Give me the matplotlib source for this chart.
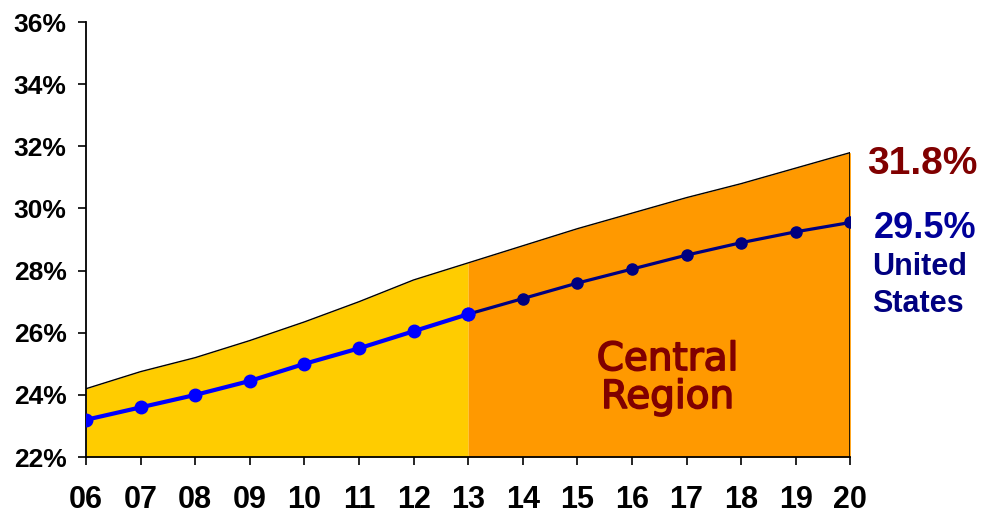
import matplotlib.pyplot as plt
import matplotlib.patheffects as pe
from matplotlib.ticker import FuncFormatter

# Data
years = [6, 7, 8, 9, 10, 11, 12, 13, 14, 15, 16, 17, 18, 19, 20]
year_labels = ['06', '07', '08', '09', '10', '11', '12', '13', '14', '15', '16', '17', '18', '19', '20']
central = [24.2, 24.75, 25.2, 25.75, 26.35, 27.0, 27.7, 28.25, 28.8, 29.35, 29.85, 30.35, 30.8, 31.3, 31.8]
us = [23.2, 23.6, 24.0, 24.45, 25.0, 25.5, 26.05, 26.6, 27.1, 27.6, 28.05, 28.5, 28.9, 29.25, 29.55]
split = 7  # index of year 13, where actual turns into projection

fig = plt.figure(figsize=(9.85, 5.13), dpi=100)
ax = fig.add_axes([0.0873, 0.109, 0.776, 0.848])

# Shaded area, yellow for past and orange for projection
ax.fill_between(years[:split + 1], 22, central[:split + 1], color='#FFCC00', lw=0)
ax.fill_between(years[split:], 22, central[split:], color='#FF9900', lw=0)
ax.plot(years, central, color='black', lw=1)
ax.plot([years[-1], years[-1]], [22, central[-1]], color='black', lw=1.2)

# United States line
ax.plot(years[:split + 1], us[:split + 1], color='#0000FF', lw=3, marker='o', ms=9, zorder=3)
ax.plot(years[split:], us[split:], color='#000080', lw=2.3, marker='o', ms=8, zorder=3)
ax.plot(years[split], us[split], color='#0000FF', marker='o', ms=9, zorder=4)

ax.set_xlim(6, 20)
ax.set_ylim(22, 36)
ax.set_yticks(range(22, 37, 2))
ax.yaxis.set_major_formatter(FuncFormatter(lambda v, p: f'{v:.0f}%'))
ax.set_xticks(years)
ax.set_xticklabels(year_labels)

for s in ['top', 'right']:
    ax.spines[s].set_visible(False)
for s in ['left', 'bottom']:
    ax.spines[s].set_linewidth(1.3)
ax.tick_params(axis='y', direction='out', length=6, width=1.2, pad=8, labelsize=19)
ax.tick_params(axis='x', direction='out', length=6, width=1.2, pad=14, labelsize=22)
for lab in ax.get_xticklabels() + ax.get_yticklabels():
    lab.set_fontweight('bold')
    lab.set_fontfamily('Liberation Sans')

# Labels on the right
ax.annotate('31.8%', (years[-1], central[-1]), xytext=(12, -8), textcoords='offset points',
            ha='left', va='center', fontsize=28, fontweight='bold', color='#800000',
            family='Liberation Sans', annotation_clip=False)
ax.annotate('29.5%', (years[-1], us[-1]), xytext=(17, -4), textcoords='offset points',
            ha='left', va='center', fontsize=26, fontweight='bold', color='#000099',
            family='Liberation Sans', annotation_clip=False)
ax.annotate('United', (years[-1], us[-1]), xytext=(16, -32), textcoords='offset points',
            ha='left', va='center', fontsize=22, fontweight='bold', color='#000080',
            family='Liberation Sans', annotation_clip=False)
ax.annotate('States', (years[-1], us[-1]), xytext=(16, -59), textcoords='offset points',
            ha='left', va='center', fontsize=22, fontweight='bold', color='#000080',
            family='Liberation Sans', annotation_clip=False)

thick = [pe.withStroke(linewidth=1.2, foreground='#800000')]
ax.text(16.65, 24.8, 'Central', ha='center', va='baseline', fontsize=28, color='#800000',
        family='DejaVu Sans', path_effects=thick)
ax.text(16.65, 23.58, 'Region', ha='center', va='baseline', fontsize=28, color='#800000',
        family='DejaVu Sans', path_effects=thick)

fig.savefig('out.png', dpi=100)
